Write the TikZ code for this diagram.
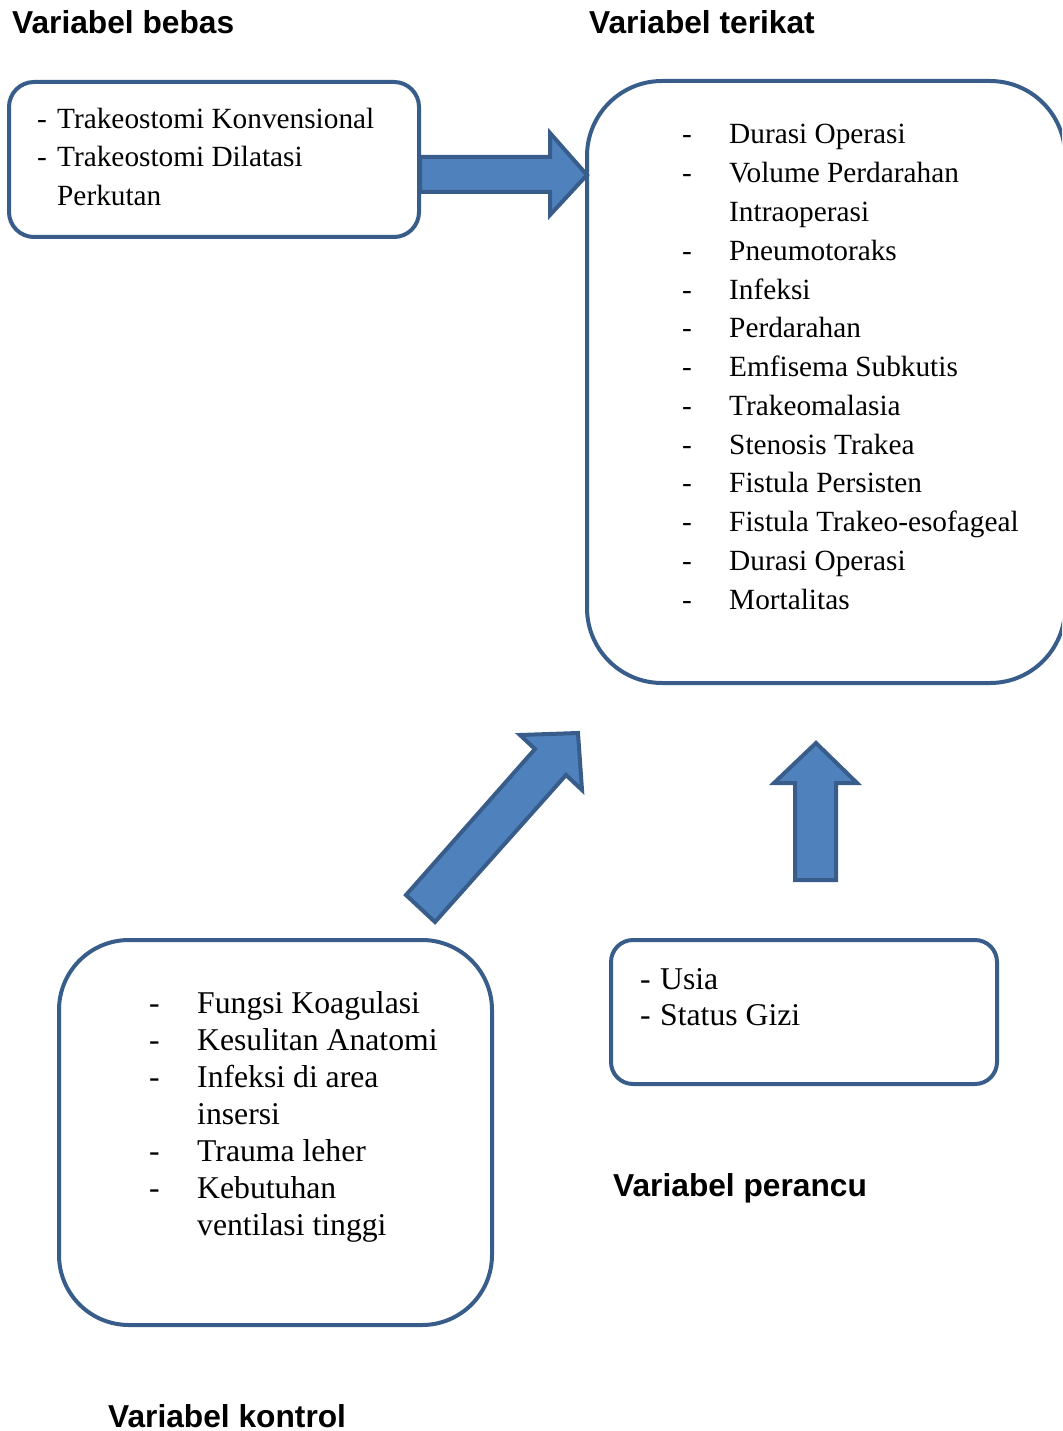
\documentclass[tikz,border=0pt]{standalone}
\usepackage{fontspec}
\setmainfont{Liberation Serif}
\newfontfamily\headfont{Liberation Sans}
\definecolor{edgeblue}{HTML}{385D8A}
\definecolor{fillblue}{HTML}{4F81BD}
\begin{document}
\begin{tikzpicture}[x=1pt,y=-1pt,
  box/.style={draw=edgeblue,line width=4pt,rectangle,inner sep=0pt,outer sep=0pt},
  blockarrow/.style={draw=edgeblue,fill=fillblue,line width=4pt,line join=miter},
  heading/.style={font=\headfont\bfseries\fontsize{31.7}{36}\selectfont,anchor=base west,inner sep=0pt},
  body/.style={font=\fontsize{29.3}{35}\selectfont,anchor=base west,inner sep=0pt},
  bodylarge/.style={font=\fontsize{31.7}{37}\selectfont,anchor=base west,inner sep=0pt}]
\path[use as bounding box] (0,0) rectangle (1062,1431);
\clip (0,0) rectangle (1062,1431);

% boxes
\node[box,minimum width=410pt,minimum height=155pt,rounded corners=25pt] (bebas) at (214,159.5) {};
\node[box,minimum width=478pt,minimum height=602pt,rounded corners=75pt] (terikat) at (826,382) {};
\node[box,minimum width=433pt,minimum height=385pt,rounded corners=70pt] (kontrol) at (275.5,1132.5) {};
\node[box,minimum width=386pt,minimum height=144pt,rounded corners=22pt] (perancu) at (804,1012) {};

% block arrows
\draw[blockarrow] (420,157) -- (550,157) -- (550,133) -- (587,175) -- (550,215) -- (550,192) -- (420,192) -- cycle;
\draw[blockarrow] (406,895) -- (535,749) -- (520,735) -- (578,733) -- (582,790) -- (566,775) -- (435,922) -- cycle;
\draw[blockarrow] (795,880) -- (795,783) -- (774,783) -- (816,743) -- (857,783) -- (836,783) -- (836,880) -- cycle;

% headings
\node[heading] (hbebas) at (12,34) {Variabel bebas};
\node[heading] (hterikat) at (589,34) {Variabel terikat};
\node[heading] (hperancu) at (613,1196) {Variabel perancu};
\node[heading] (hkontrol) at (108,1427) {Variabel kontrol};

% bebas list
\foreach \d/\t [count=\i] in {-/Trakeostomi Konvensional,-/Trakeostomi Dilatasi,/Perkutan}{
  \node[body] (bd\i) at (37,{128.5+(\i-1)*38.5}) {\d};
  \node[body] (bt\i) at (57,{128.5+(\i-1)*38.5}) {\t};
}
% terikat list
\foreach \d/\t [count=\i] in {-/Durasi Operasi,-/Volume Perdarahan,/Intraoperasi,-/Pneumotoraks,-/Infeksi,-/Perdarahan,-/Emfisema Subkutis,-/Trakeomalasia,-/Stenosis Trakea,-/Fistula Persisten,-/Fistula Trakeo-esofageal,-/Durasi Operasi,-/Mortalitas}{
  \node[body] (td\i) at (682,{144+(\i-1)*38.75}) {\d};
  \node[body] (tt\i) at (729,{144+(\i-1)*38.75}) {\t};
}
% kontrol list
\foreach \d/\t [count=\i] in {-/Fungsi Koagulasi,-/Kesulitan Anatomi,-/Infeksi di area,/insersi,-/Trauma leher,-/Kebutuhan,/ventilasi tinggi}{
  \node[bodylarge] (kd\i) at (149,{1013.5+(\i-1)*37}) {\d};
  \node[bodylarge] (kt\i) at (197,{1013.5+(\i-1)*37}) {\t};
}
% perancu list
\foreach \d/\t [count=\i] in {-/Usia,-/Status Gizi}{
  \node[bodylarge] (pd\i) at (640,{989.5+(\i-1)*36}) {\d};
  \node[bodylarge] (pt\i) at (660,{989.5+(\i-1)*36}) {\t};
}
\end{tikzpicture}
\end{document}
